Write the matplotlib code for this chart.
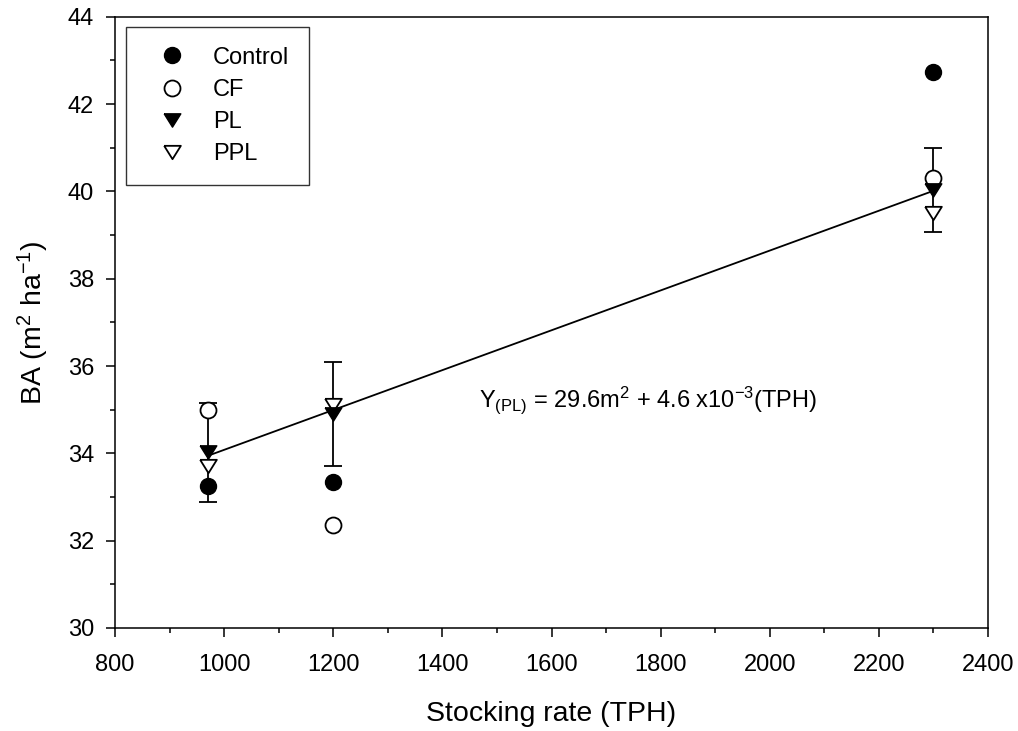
import numpy as np
import matplotlib.pyplot as plt

plt.rcParams['font.family'] = ['Liberation Sans', 'DejaVu Sans']
plt.rcParams['mathtext.default'] = 'regular'

# stocking rate (TPH)
tph = [970, 1200, 2300]

# basal area (m2/ha) per treatment
control = [33.25, 33.35, 42.73]
cf = [35.0, 32.35, 40.30]
pl = [34.02, 34.9, 40.03]
ppl = [33.7, 35.1, 39.5]
pl_err = [1.14, 1.2, 0.97]

fig, ax = plt.subplots(figsize=(10.18, 7.31), dpi=100)
fig.subplots_adjust(left=0.113, right=0.9705, bottom=0.141, top=0.977)

# flatter downward triangle like the original
tri = [(-1, 0.8), (1, 0.8), (0, -0.8), (-1, 0.8)]

# regression line for PL
slope, icpt = np.polyfit(tph, pl, 1)
xs = np.array([min(tph), max(tph)])
ax.plot(xs, icpt + slope * xs, color='black', lw=1.3, zorder=2)

ax.errorbar(tph, pl, yerr=pl_err, fmt='none', ecolor='black', elinewidth=1.3,
            capsize=6.7, capthick=1.3, zorder=3)

ms = 11.5
ax.plot(tph, control, 'o', color='black', ms=ms, ls='none', label='Control', zorder=4)
ax.plot(tph, cf, 'o', mfc='white', mec='black', mew=1.3, ms=ms, ls='none', label='CF', zorder=4)
ax.plot(tph, pl, marker=tri, color='black', ms=ms + 0.5, ls='none', label='PL', zorder=5)
ax.plot(tph, ppl, marker=tri, mfc='white', mec='black', mew=1.3, ms=ms + 0.5, ls='none',
        label='PPL', zorder=4)

ax.text(1467, 35.06, r'Y$_{(PL)}$ = 29.6m$^2$ + 4.6 x10$^{-3}$(TPH)', fontsize=17,
        va='baseline', ha='left')

ax.set_xlim(800, 2400)
ax.set_ylim(30, 44)
ax.set_xticks(np.arange(800, 2401, 200))
ax.set_xticks(np.arange(800, 2401, 100), minor=True)
ax.set_yticks(np.arange(30, 44.1, 2))
ax.set_yticks(np.arange(30, 44.1, 1), minor=True)
ax.tick_params(which='both', direction='out', top=False, right=False, labelsize=17)
ax.tick_params(axis='x', which='both', pad=12)
ax.tick_params(axis='y', which='both', pad=8.5)
ax.tick_params(which='major', length=6.5, width=1.1)
ax.tick_params(which='minor', length=3.6, width=1.1)
for s in ax.spines.values():
    s.set_linewidth(1.1)

ax.set_xlabel('Stocking rate (TPH)', fontsize=20.5, labelpad=18)
ax.set_ylabel(r'BA (m$^2$ ha$^{-1}$)', fontsize=20.5, labelpad=12)

leg = ax.legend(loc='upper left', fontsize=17, frameon=True, fancybox=False,
                edgecolor='black', borderpad=0.85, handletextpad=0.64, handlelength=2.2,
                markerscale=1.0, labelspacing=0.43, borderaxespad=0,
                bbox_to_anchor=(0.0126, 0.984))
leg.get_frame().set_linewidth(1.0)

plt.savefig('out.png', dpi=100)
